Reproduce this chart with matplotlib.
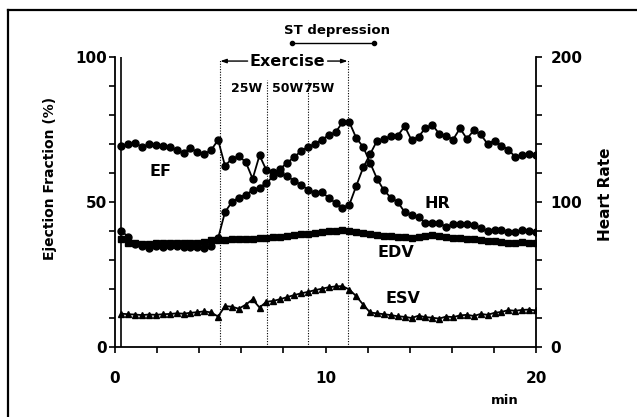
import numpy as np
import matplotlib
matplotlib.use('Agg')
import matplotlib.pyplot as plt
from matplotlib.lines import Line2D

# ---------------- data ----------------
time_min = np.linspace(0.3, 20, 61)

ef = [69.2, 69.9, 70.4, 68.9, 70.0, 69.5, 69.4, 69.0, 67.9, 67.0, 68.5, 67.2, 66.5, 67.9, 71.4,
      62.5, 64.9, 65.8, 63.8, 58.0, 66.1, 60.9, 60.2, 59.9, 58.9, 57.3, 55.9, 54.3, 53.1, 53.5, 51.4, 49.7,
      48.0, 49.1, 55.6, 61.9, 66.5, 71.1, 71.8, 72.6, 72.9, 76.1, 71.3, 72.5, 75.5, 76.6, 73.5, 72.9,
      71.5, 75.4, 71.8, 74.7, 73.3, 70.0, 71.2, 69.4, 68.1, 65.5, 66.3, 66.6, 66.3]

hr = [80, 76, 71, 70, 68, 70, 69, 70, 70, 69, 69, 69, 68, 70,
      75, 93, 100, 103, 105, 108, 110, 113, 118, 123, 127, 131, 135, 138, 140, 143, 146, 148,
      155, 155, 144, 138, 127, 116, 108, 103, 100, 93, 91, 90, 85.5, 85.6, 85.6, 82.7, 84.8, 84.8,
      84.9, 83.9, 82, 80, 81, 81, 79, 79, 81, 80, 79]

edv = [37.3, 36.0, 35.8, 35.5, 35.6, 35.8, 35.7, 35.8, 35.9, 35.8, 35.9, 36.0, 36.2, 36.8,
       37.0, 37.0, 37.1, 37.1, 37.3, 37.3, 37.5, 37.6, 37.8, 38.0, 38.3, 38.5, 38.8, 39.1, 39.4,
       39.8, 40.0, 40.1, 40.2,
       40.0, 39.8, 39.4, 39.0, 38.6, 38.4, 38.2, 38.0, 37.8, 37.6, 37.9, 38.2, 38.5, 38.3, 37.9,
       37.6, 37.5, 37.3, 37.1, 36.8, 36.6, 36.4, 36.2, 36.0, 36.0, 36.1, 35.9, 35.8]

esv = [11.5, 11.3, 11.2, 11.0, 11.2, 11.1, 11.3, 11.4, 11.6, 11.5, 11.8, 12.0, 12.3, 11.9,
       10.5,
       14.1, 13.9, 13.2, 14.6, 16.4, 13.6, 15.6, 15.9, 16.5, 17.2, 17.9, 18.5, 19.0, 19.6, 20.1, 20.6, 20.9,
       21.0, 19.8, 17.5, 14.6, 11.9,
       11.6, 11.3, 11.0, 10.6, 10.4, 10.0, 10.8, 10.3, 10.1, 9.8, 10.5, 10.3, 10.9, 11.1, 10.7,
       11.4, 11.1, 11.8, 12.1, 12.7, 12.5, 12.8, 12.9, 12.6]

stage_bounds = [5.0, 7.2, 9.15, 11.05]
stage_labels = ['25W', '50W', '75W']
stage_label_t = [6.25, 8.2, 9.7]
st_range = [8.4, 12.3]
start_marker_t = 0.3

x_ticks = list(range(0, 21, 2))
x_labels = ['0', '', '', '', '', '10', '', '', '', '', '20']
ef_ticks = list(range(0, 101, 10))
ef_labels = ['0', '', '', '', '', '50', '', '', '', '', '100']
hr_ticks = list(range(0, 201, 20))
hr_labels = ['0', '', '', '', '', '100', '', '', '', '', '200']

# ---------------- style ----------------
plt.rcParams['font.family'] = ['DejaVu Sans']
plt.rcParams['font.weight'] = 'bold'

W, H = 637, 417
fig = plt.figure(figsize=(W / 100, H / 100), dpi=100)
ax = fig.add_axes([115 / W, 1 - 347 / H, 421 / W, 290 / H])
ax2 = ax.twinx()

ax.set_xlim(0, 20)
ax.set_ylim(0, 100)
ax2.set_ylim(0, 200)

for a in (ax, ax2):
    a.spines['top'].set_visible(False)
    for s in a.spines.values():
        s.set_linewidth(1.3)
ax.spines['right'].set_visible(False)
ax2.spines['left'].set_visible(False)
ax2.spines['bottom'].set_visible(False)
ax2.spines['right'].set_visible(True)

ax.set_xticks(x_ticks)
ax.set_xticklabels(x_labels)
ax.set_yticks(ef_ticks)
ax.set_yticklabels(ef_labels)
ax2.set_yticks(hr_ticks)
ax2.set_yticklabels(hr_labels)

ax.tick_params(axis='x', direction='out', length=4, width=1.2, pad=13, labelsize=11)
ax.tick_params(axis='y', direction='out', length=4, width=1.2, pad=1.5, labelsize=11)
ax2.tick_params(axis='y', direction='out', length=4.5, width=1.2, pad=6, labelsize=11)

ax.set_ylabel('Ejection Fraction (%)', fontsize=10, fontweight='bold', va='center', ha='center')
ax.yaxis.set_label_coords(-0.154, 0.58)
ax2.set_ylabel('Heart Rate', fontsize=11, fontweight='bold', va='center', ha='center')
ax2.yaxis.set_label_coords(1.164, 0.526)
ax.set_xlabel('min', fontsize=9.5, fontweight='bold', va='center', ha='center')
ax.xaxis.set_label_coords(0.926, -0.184)

# vertical markers
ax.axvline(start_marker_t, color='black', lw=1.2)
for i, b in enumerate(stage_bounds):
    top = 0.99 if i in (0, len(stage_bounds) - 1) else 0.92
    ax.axvline(b, ymin=0, ymax=top, color='black', lw=0.8, linestyle=(0, (1, 1.4)))

# series
lw = 1.3
ax.plot(time_min, ef, color='black', lw=lw, marker='o', ms=5, zorder=5)
ax2.plot(time_min, hr, color='black', lw=lw, marker='o', ms=5, zorder=5)
ax.plot(time_min, edv, color='black', lw=lw, marker='s', ms=3.8, zorder=5)
ax.plot(time_min, esv, color='black', lw=lw, marker='^', ms=5, zorder=5)

# series labels
ax.text(2.14, 60.4, 'EF', fontsize=11.5, fontweight='bold', ha='center', va='center')
ax.text(15.33, 49.4, 'HR', fontsize=11.5, fontweight='bold', ha='center', va='center')
ax.text(13.33, 32.6, 'EDV', fontsize=11.5, fontweight='bold', ha='center', va='center')
ax.text(13.7, 16.8, 'ESV', fontsize=11.5, fontweight='bold', ha='center', va='center')

# exercise annotation
ex_y = 98.6
ax.text(8.19, ex_y, 'Exercise', fontsize=11.5, fontweight='bold', ha='center', va='center',
        clip_on=False)
arrow_kw = dict(arrowstyle='-|>,head_length=0.35,head_width=0.12', color='black', lw=1.0,
                shrinkA=0, shrinkB=0)
ax.annotate('', xy=(stage_bounds[0], ex_y), xytext=(6.3, ex_y), arrowprops=arrow_kw,
            annotation_clip=False)
ax.annotate('', xy=(stage_bounds[-1], ex_y), xytext=(10.1, ex_y), arrowprops=arrow_kw,
            annotation_clip=False)

for t, lab in zip(stage_label_t, stage_labels):
    ax.text(t, 89.3, lab, fontsize=9, fontweight='bold', ha='center', va='center')

# ST depression
ax.text(10.57, 109.3, 'ST depression', fontsize=9.5, fontweight='bold', ha='center',
        va='center', clip_on=False)
ax.plot(st_range, [104.8, 104.8], color='black', lw=1.0, marker='o', ms=3, clip_on=False)

# outer frame (left and top lines)
fig.add_artist(Line2D([8 / W, 8 / W], [0, 1 - 10 / H], transform=fig.transFigure,
                      color='black', lw=1.6))
fig.add_artist(Line2D([8 / W, 1], [1 - 10 / H, 1 - 10 / H], transform=fig.transFigure,
                      color='black', lw=1.6))

fig.savefig('out.png', dpi=100)
